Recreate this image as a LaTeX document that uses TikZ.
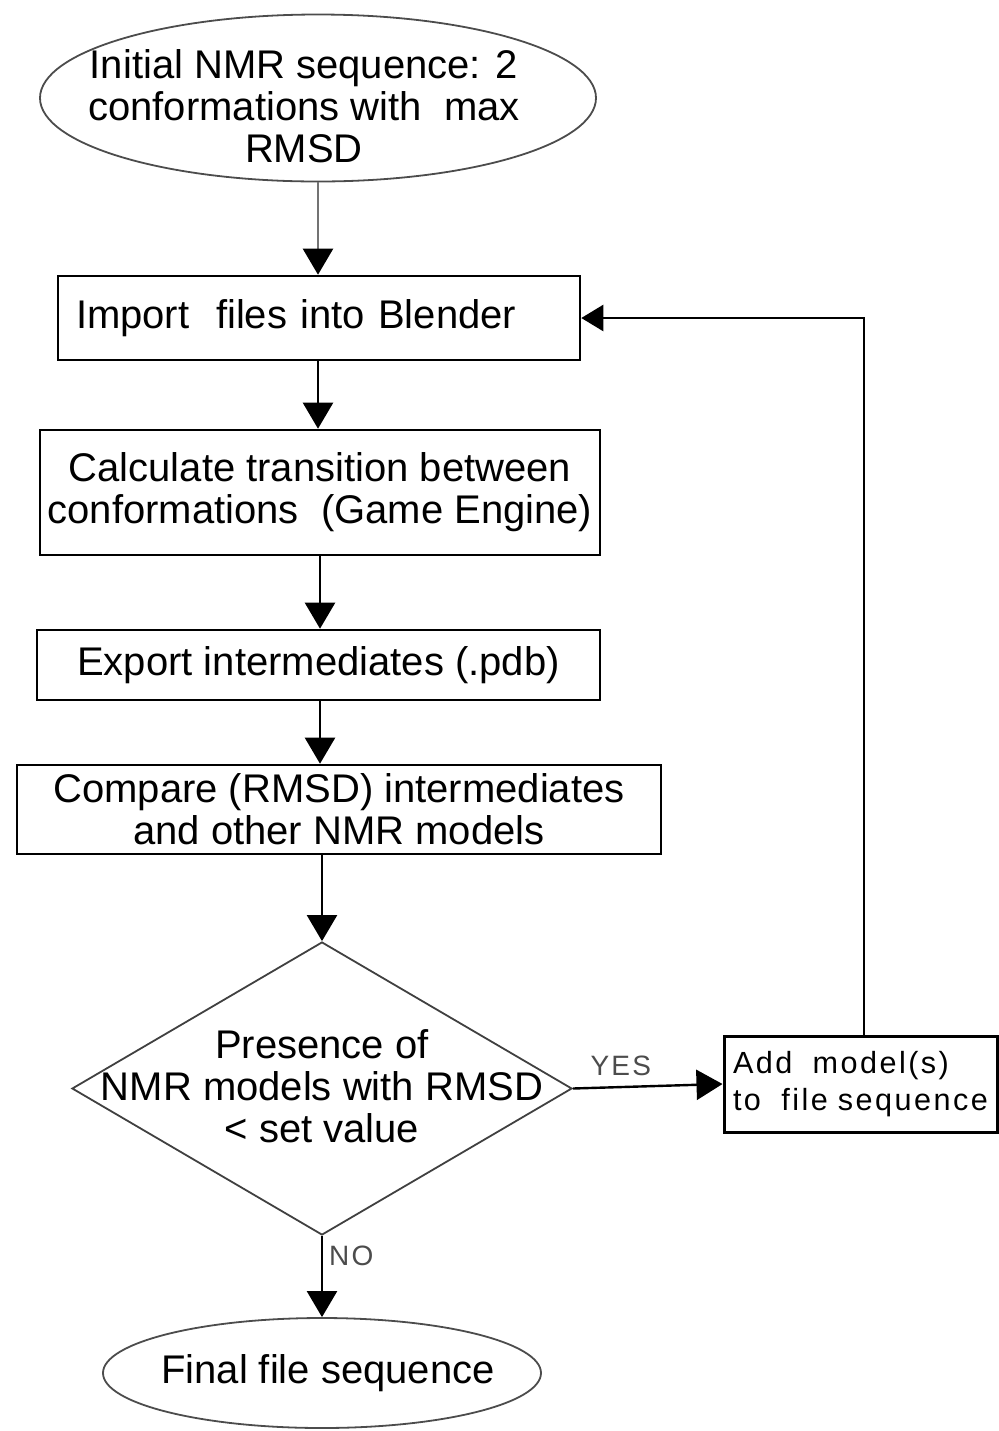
\documentclass[tikz,border=0pt]{standalone}
\usepackage{fontspec}
\setmainfont[Ligatures=NoCommon]{Liberation Sans}
\newfontfamily\spaced[Ligatures=NoCommon,LetterSpace=8]{Liberation Sans}
\usetikzlibrary{arrows.meta,shapes.geometric}
\begin{document}
\begin{tikzpicture}[x=0.5pt,y=-0.5pt,
  every node/.style={font=\fontsize{20pt}{21pt}\selectfont, inner sep=0pt},
  oval/.style={ellipse, draw=black!70, line width=0.9pt},
  box/.style={rectangle, draw=black, line width=1.3pt, align=center},
  dec/.style={diamond, draw=black!75, line width=0.9pt},
  conn/.style={line width=1.2pt, -{Triangle[width=15pt,length=13pt,color=black]}},
  greyconn/.style={conn, draw=black!55},
  lbl/.style={font=\spaced\fontsize{14pt}{15pt}\selectfont, text=black!70}]
\useasboundingbox (0,0) rectangle (998,1431);

\node[oval, minimum width=278pt, minimum height=83.5pt] (start) at (318,98) {};
\node[align=center] (starttext) at (304,106) {Initial NMR sequence: 2\\conformations with\ \ max\\RMSD};

\node[box, minimum width=261pt, minimum height=42pt, text width=243pt, align=left] (import) at (319,318) {Import\ \ files into Blender};

\node[box, minimum width=280pt, minimum height=62.5pt] (calc) at (320,492.5) {Calculate transition between\\conformations\ \ (Game Engine)};

\node[box, minimum width=281.5pt, minimum height=35pt] (export) at (318.5,665) {Export intermediates (.pdb)};

\node[box, minimum width=322pt, minimum height=44.5pt] (compare) at (339,809.5) {Compare (RMSD) intermediates\\and other NMR models};

\node[dec, minimum width=250pt, minimum height=146.5pt, aspect=1.7] (decide) at (322,1088.5) {};
\node[align=center] (decidetext) at (322,1086) {Presence of\\NMR models with RMSD\\{<} set value};

\node[box, line width=1.5pt, minimum width=136.5pt, minimum height=48pt, text width=127.5pt, align=left,
  font=\spaced\fontsize{15.3pt}{18.5pt}\selectfont] (add) at (860.5,1084) {Add\ \ model(s)\\to\ \ file sequence};

\node[oval, minimum width=219pt, minimum height=55pt] (final) at (322,1373) {};
\node (finaltext) at (328,1373) {Final file sequence};

\coordinate (corner) at (864,318);

\draw[greyconn] (start.south) -- (start.south |- import.north);
\draw[conn] (import.south -| start.south) -- (start.south |- calc.north);
\draw[conn] (calc.south) -- (calc.south |- export.north);
\draw[conn] (calc.south |- export.south) -- (calc.south |- compare.north);
\draw[conn] (decide.north |- compare.south) -- (decide.north);
\draw[conn] (decide.east) -- (add.west) node[lbl, pos=0.32, above=5pt] {YES};
\draw[conn] (decide.south) -- (final.north) node[lbl, pos=0.25, right=3pt] {NO};
\draw[line width=1.2pt, -{Triangle[width=13pt,length=11pt]}] (add.north -| corner) -- (corner) -- (import.east);
\end{tikzpicture}
\end{document}
